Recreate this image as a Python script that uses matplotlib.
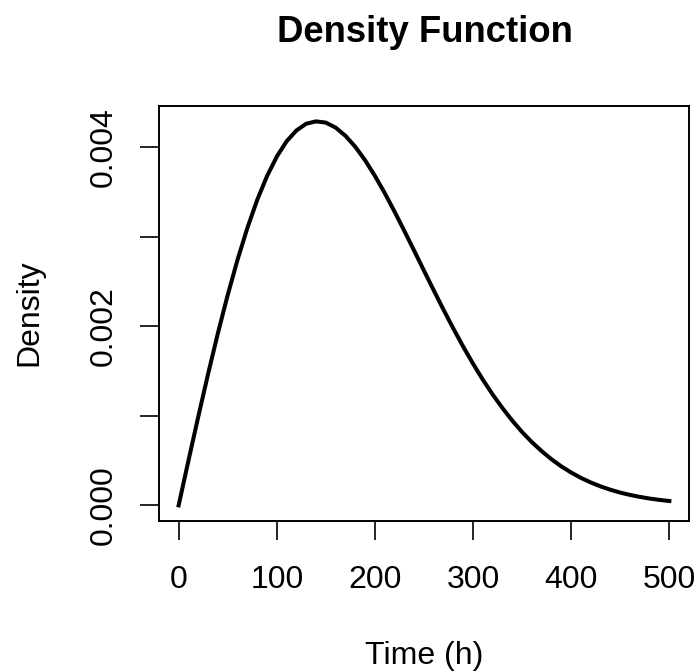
import matplotlib
matplotlib.use("Agg")
import matplotlib.pyplot as plt

# values (time in hours, density)
time_h = [0, 10, 20, 30, 40, 50, 60, 70, 80, 90, 100, 110, 120, 130, 140,
          150, 160, 170, 180, 190, 200, 210, 220, 230, 240, 250, 260, 270,
          280, 290, 300, 310, 320, 330, 340, 350, 360, 370, 380, 390, 400,
          410, 420, 430, 440, 450, 460, 470, 480, 490, 500]
density = [0.0, 0.000499, 0.00099, 0.001467, 0.001922, 0.002349, 0.002742,
           0.003096, 0.003409, 0.003675, 0.003894, 0.004065, 0.004186,
           0.004262, 0.004288, 0.004274, 0.004218, 0.004126, 0.004004,
           0.003853, 0.003679, 0.003487, 0.00328, 0.003064, 0.002843,
           0.00262, 0.002399, 0.002182, 0.001972, 0.001771, 0.001581,
           0.001402, 0.001237, 0.001085, 0.000945, 0.000818, 0.000705,
           0.000604, 0.000514, 0.000434, 0.000366, 0.000306, 0.000255,
           0.000211, 0.000174, 0.000142, 0.000116, 0.000094, 0.0000756,
           0.0000606, 0.0000482]
x_ticks = [0, 100, 200, 300, 400, 500]
y_ticks = [0.000, 0.001, 0.002, 0.003, 0.004]
y_labels = ["0.000", "", "0.002", "", "0.004"]

plt.rcParams["font.family"] = ["Liberation Sans", "DejaVu Sans"]

W, H = 698, 672
fig = plt.figure(figsize=(W / 100, H / 100), dpi=100)
ax = fig.add_axes([159 / W, 1 - 520.7 / H, 530 / W, 414.7 / H])

ax.plot(time_h, density, color="black", linewidth=2.9)

# R-style 4% padding
xr = max(time_h) - min(time_h)
yr = max(density) - min(density)
ax.set_xlim(min(time_h) - 0.04 * xr, max(time_h) + 0.04 * xr)
ax.set_ylim(min(density) - 0.04 * yr, max(density) + 0.04 * yr)

ax.set_xticks(x_ticks)
ax.set_xticklabels([str(t) for t in x_ticks])
ax.set_yticks(y_ticks)
ax.set_yticklabels(y_labels, rotation=90, va="center")
ax.tick_params(axis="both", length=13.7, width=1.2, labelsize=23,
               color="black")
ax.tick_params(axis="x", pad=18)
ax.tick_params(axis="y", pad=15)

for s in ax.spines.values():
    s.set_linewidth(1.4)

fig.text(425 / W, 1 - 42 / H, "Density Function",
         ha="center", va="baseline", fontsize=26.3, fontweight="bold")
fig.text(424 / W, 1 - 664 / H, "Time (h)", ha="center",
         va="baseline", fontsize=23)
fig.text(37 / W, 1 - 313 / H, "Density", ha="center", va="baseline",
         rotation=90, rotation_mode="anchor", fontsize=23)

fig.savefig("out.png", dpi=100)
